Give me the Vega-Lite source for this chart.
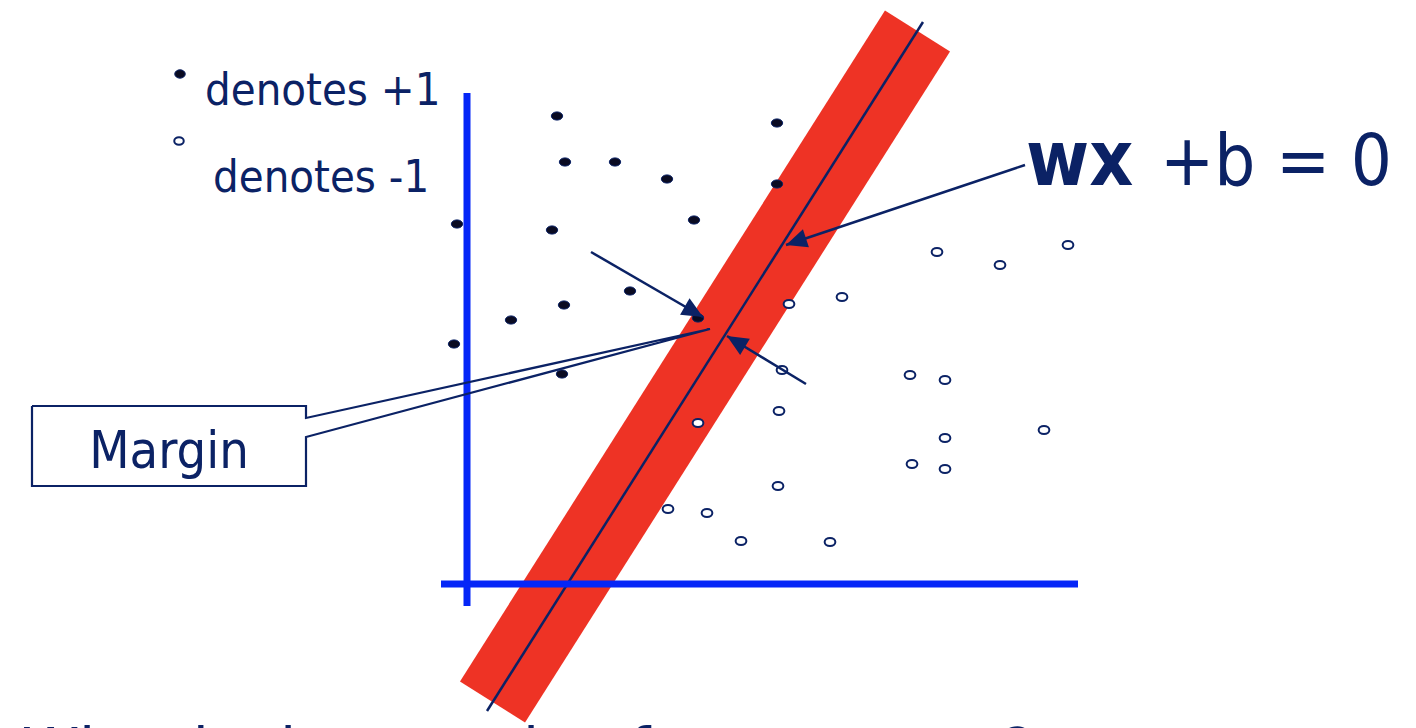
{
  "$schema": "https://vega.github.io/schema/vega-lite/v6.json",
  "width": 1416,
  "height": 728,
  "autosize": {"type": "none"},
  "padding": 0,
  "background": "white",
  "datasets": {
    "pos": [
      {"x": 557, "y": 116}, {"x": 777, "y": 123}, {"x": 565, "y": 162}, {"x": 615, "y": 162},
      {"x": 667, "y": 179}, {"x": 777, "y": 184}, {"x": 457, "y": 224}, {"x": 552, "y": 230},
      {"x": 694, "y": 220}, {"x": 630, "y": 291}, {"x": 564, "y": 305}, {"x": 511, "y": 320},
      {"x": 698, "y": 318}, {"x": 454, "y": 344}, {"x": 562, "y": 374}
    ],
    "neg": [
      {"x": 937, "y": 252}, {"x": 1000, "y": 265}, {"x": 1068, "y": 245}, {"x": 842, "y": 297},
      {"x": 789, "y": 304}, {"x": 782, "y": 370}, {"x": 910, "y": 375}, {"x": 945, "y": 380},
      {"x": 779, "y": 411}, {"x": 698, "y": 423}, {"x": 945, "y": 438}, {"x": 1044, "y": 430},
      {"x": 912, "y": 464}, {"x": 945, "y": 469}, {"x": 778, "y": 486}, {"x": 668, "y": 509},
      {"x": 707, "y": 513}, {"x": 741, "y": 541}, {"x": 830, "y": 542}
    ],
    "legendPos": [{"x": 180, "y": 74}],
    "legendNeg": [{"x": 179, "y": 141}],
    "axes": [
      {"x": 467, "x2": 467, "y": 93, "y2": 606},
      {"x": 441, "x2": 1078, "y": 584, "y2": 584}
    ],
    "band": [{"x": 492.5, "y": 702}, {"x": 917.5, "y": 31}],
    "boundary": [{"x": 487, "y": 711}, {"x": 923, "y": 22}],
    "arrows": [
      {"id": "a1", "x": 591, "y": 252, "x2": 703, "y2": 317},
      {"id": "a2", "x": 806, "y": 384, "x2": 727, "y2": 336},
      {"id": "a3", "x": 1025, "y": 165, "x2": 786, "y2": 245}
    ],
    "callout": [
      {"i": 0, "x": 32, "y": 406}, {"i": 1, "x": 306, "y": 406}, {"i": 2, "x": 306, "y": 418},
      {"i": 3, "x": 710, "y": 329}, {"i": 4, "x": 306, "y": 437}, {"i": 5, "x": 306, "y": 486},
      {"i": 6, "x": 32, "y": 486}, {"i": 7, "x": 32, "y": 406}
    ]
  },
  "encoding": {
    "x": {"field": "x", "type": "quantitative", "axis": null, "scale": {"domain": [0, 1416], "nice": false, "zero": false}},
    "y": {"field": "y", "type": "quantitative", "axis": null, "scale": {"domain": [0, 728], "nice": false, "zero": false, "reverse": true}}
  },
  "layer": [
    {
      "data": {"name": "band"},
      "mark": {"type": "line", "color": "#EE3325", "strokeWidth": 77, "strokeCap": "butt"}
    },
    {
      "data": {"name": "boundary"},
      "mark": {"type": "line", "color": "#0B2265", "strokeWidth": 2.5, "strokeCap": "butt"}
    },
    {
      "data": {"name": "axes"},
      "mark": {"type": "rule", "color": "#0526F7", "strokeWidth": 7, "strokeCap": "butt"},
      "encoding": {"x2": {"field": "x2"}, "y2": {"field": "y2"}}
    },
    {
      "data": {"name": "pos"},
      "mark": {"type": "point", "shape": "M -1 0 A 1 0.72 0 1 0 1 0 A 1 0.72 0 1 0 -1 0 Z", "size": 130, "filled": true, "fill": "#0A0B22", "stroke": "#0B2265", "strokeWidth": 1, "opacity": 1}
    },
    {
      "data": {"name": "neg"},
      "mark": {"type": "point", "shape": "M -1 0 A 1 0.75 0 1 0 1 0 A 1 0.75 0 1 0 -1 0 Z", "size": 115, "filled": false, "fill": "white", "fillOpacity": 1, "stroke": "#0B2265", "strokeWidth": 2, "opacity": 1}
    },
    {
      "data": {"name": "legendPos"},
      "mark": {"type": "point", "shape": "M -1 0 A 1 0.8 0 1 0 1 0 A 1 0.8 0 1 0 -1 0 Z", "size": 110, "filled": true, "fill": "#0A0B22", "stroke": "#0B2265", "strokeWidth": 1, "opacity": 1}
    },
    {
      "data": {"name": "legendNeg"},
      "mark": {"type": "point", "shape": "M -1 0 A 1 0.8 0 1 0 1 0 A 1 0.8 0 1 0 -1 0 Z", "size": 90, "filled": false, "fill": "white", "fillOpacity": 1, "stroke": "#0B2265", "strokeWidth": 2, "opacity": 1}
    },
    {
      "data": {"name": "arrows"},
      "mark": {"type": "rule", "color": "#0B2265", "strokeWidth": 2.5},
      "encoding": {"x2": {"field": "x2"}, "y2": {"field": "y2"}}
    },
    {
      "data": {"name": "arrows"},
      "transform": [{"filter": "datum.id == 'a1'"}],
      "mark": {"type": "point", "shape": "M 0 0 L -0.45 1 L 0.45 1 Z", "size": 1764, "angle": 120, "filled": true, "fill": "#0B2265", "strokeWidth": 0, "opacity": 1},
      "encoding": {"x": {"field": "x2", "type": "quantitative"}, "y": {"field": "y2", "type": "quantitative"}}
    },
    {
      "data": {"name": "arrows"},
      "transform": [{"filter": "datum.id == 'a2'"}],
      "mark": {"type": "point", "shape": "M 0 0 L -0.45 1 L 0.45 1 Z", "size": 1764, "angle": 301, "filled": true, "fill": "#0B2265", "strokeWidth": 0, "opacity": 1},
      "encoding": {"x": {"field": "x2", "type": "quantitative"}, "y": {"field": "y2", "type": "quantitative"}}
    },
    {
      "data": {"name": "arrows"},
      "transform": [{"filter": "datum.id == 'a3'"}],
      "mark": {"type": "point", "shape": "M 0 0 L -0.45 1 L 0.45 1 Z", "size": 1764, "angle": 251.5, "filled": true, "fill": "#0B2265", "strokeWidth": 0, "opacity": 1},
      "encoding": {"x": {"field": "x2", "type": "quantitative"}, "y": {"field": "y2", "type": "quantitative"}}
    },
    {
      "data": {"name": "callout"},
      "mark": {"type": "line", "color": "#0B2265", "strokeWidth": 2.2, "strokeJoin": "miter"},
      "encoding": {"order": {"field": "i", "type": "quantitative"}}
    },
    {
      "data": {"values": [{"x": 205, "y": 105, "label": "denotes +1"}, {"x": 213, "y": 192, "label": "denotes -1"}]},
      "mark": {"type": "text", "align": "left", "baseline": "alphabetic", "font": "DejaVu Sans Condensed, DejaVu Sans", "fontSize": 45, "color": "#0B2265"},
      "encoding": {"text": {"field": "label"}}
    },
    {
      "data": {"values": [{"x": 1026, "y": 185, "label": "wx"}]},
      "mark": {"type": "text", "align": "left", "baseline": "alphabetic", "font": "DejaVu Sans Condensed, DejaVu Sans", "fontSize": 76, "fontWeight": "bold", "color": "#0B2265"},
      "encoding": {"text": {"field": "label"}}
    },
    {
      "data": {"values": [{"x": 1392, "y": 185, "label": "+b = 0"}]},
      "mark": {"type": "text", "align": "right", "baseline": "alphabetic", "font": "DejaVu Sans Condensed, DejaVu Sans", "fontSize": 72, "color": "#0B2265"},
      "encoding": {"text": {"field": "label"}}
    },
    {
      "data": {"values": [{"x": 169, "y": 468, "label": "Margin"}]},
      "mark": {"type": "text", "align": "center", "baseline": "alphabetic", "font": "DejaVu Sans Condensed, DejaVu Sans", "fontSize": 52, "color": "#0B2265"},
      "encoding": {"text": {"field": "label"}}
    },
    {
      "data": {"values": [{"x": 22, "y": 770, "label": "What is the margin of a separator?"}]},
      "mark": {"type": "text", "align": "left", "baseline": "alphabetic", "font": "DejaVu Sans", "fontSize": 58, "color": "#0B2265"},
      "encoding": {"text": {"field": "label"}}
    }
  ],
  "config": {"view": {"stroke": null}}
}
